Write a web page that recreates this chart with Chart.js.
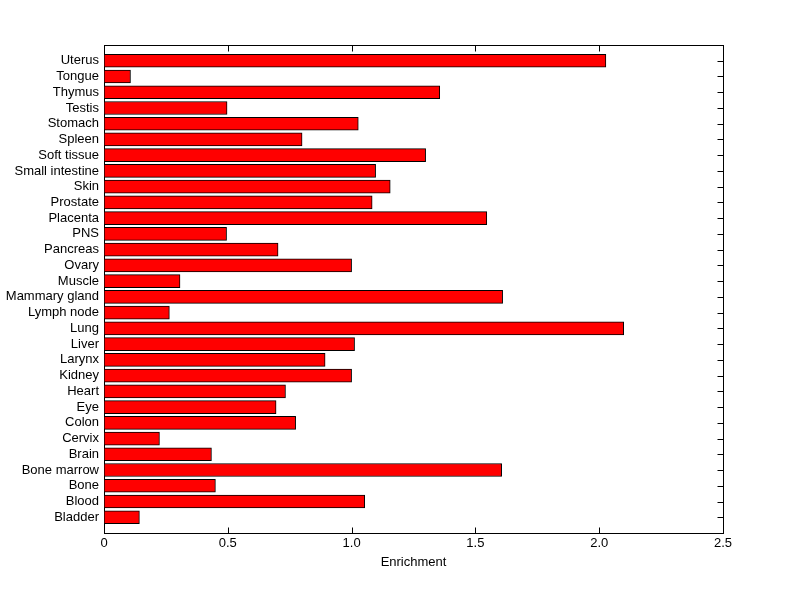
<!DOCTYPE html>
<html>
<head>
<meta charset="utf-8">
<script src="https://cdn.jsdelivr.net/npm/chart.js@4/dist/chart.umd.min.js"></script>
<style>
    html, body { margin: 0; padding: 0; background: #fff; }
    #wrap { width: 800px; height: 599px; }
</style>
</head>
<body>
<div id="wrap"><canvas id="enrichChart"></canvas></div>
<script>
// Tissues, bottom (1) to top (30)
const tissues = ['Bladder', 'Blood', 'Bone', 'Bone marrow', 'Brain', 'Cervix', 'Colon', 'Eye',
    'Heart', 'Kidney', 'Larynx', 'Liver', 'Lung', 'Lymph node', 'Mammary gland', 'Muscle',
    'Ovary', 'Pancreas', 'PNS', 'Placenta', 'Prostate', 'Skin', 'Small intestine',
    'Soft tissue', 'Spleen', 'Stomach', 'Testis', 'Thymus', 'Tongue', 'Uterus'];

const enrichment = [0.143, 1.053, 0.450, 1.606, 0.434, 0.224, 0.774, 0.695,
    0.733, 1.000, 0.893, 1.012, 2.099, 0.264, 1.610, 0.307,
    1.000, 0.703, 0.495, 1.546, 1.083, 1.156, 1.097,
    1.299, 0.800, 1.027, 0.497, 1.356, 0.107, 2.027];

const xTicks = [0, 0.5, 1, 1.5, 2, 2.5];

const FONT = { family: '"Liberation Sans", Arial, sans-serif', size: 13 };

// frame + inward tick marks, drawn under the bars like matlab does
const axesFrame = {
    id: 'axesFrame',
    beforeDatasetsDraw(chart) {
        const { ctx, chartArea: a, scales } = chart;
        const len = 6;
        const L = Math.round(a.left) + 0.5, R = Math.round(a.right) + 0.5;
        const T = Math.round(a.top) + 0.5, B = Math.round(a.bottom) + 0.5;
        ctx.save();
        ctx.strokeStyle = '#000';
        ctx.lineWidth = 1;
        ctx.beginPath();
        xTicks.forEach(t => {
            const px = Math.round(scales.x.getPixelForValue(t)) + 0.5;
            ctx.moveTo(px, T);
            ctx.lineTo(px, T + len);
            ctx.moveTo(px, B);
            ctx.lineTo(px, B - len);
        });
        tissues.forEach((t, i) => {
            const py = Math.round(scales.y.getPixelForValue(i + 1)) + 0.5;
            ctx.moveTo(L, py);
            ctx.lineTo(L + len, py);
            ctx.moveTo(R, py);
            ctx.lineTo(R - len, py);
        });
        ctx.stroke();
        ctx.strokeRect(L, T, R - L, B - T);
        ctx.restore();
    }
};

const ctx = document.getElementById('enrichChart').getContext('2d');
new Chart(ctx, {
    type: 'bar',
    data: {
        datasets: [{
            data: enrichment.map((v, i) => ({ x: v, y: i + 1 })),
            backgroundColor: '#FF0000',
            borderColor: '#000000',
            borderWidth: 1,
            borderSkipped: false,
            barThickness: 13
        }]
    },
    options: {
        indexAxis: 'y',
        responsive: true,
        maintainAspectRatio: false,
        animation: false,
        layout: { padding: { top: 45, right: 77, bottom: 0, left: 0 } },
        plugins: {
            legend: { display: false },
            tooltip: { enabled: false }
        },
        scales: {
            x: {
                type: 'linear',
                min: 0,
                max: 2.5,
                grid: { display: false, drawTicks: false },
                border: { display: false },
                ticks: {
                    stepSize: 0.5,
                    color: '#000',
                    font: FONT,
                    padding: 3,
                    maxRotation: 0
                },
                title: {
                    display: true,
                    text: 'Enrichment',
                    color: '#000',
                    font: FONT,
                    padding: { top: 0, bottom: 29 }
                },
                afterFit(scale) { scale.height = 66; }
            },
            y: {
                type: 'linear',
                min: 0,
                max: 31,
                offset: false,
                grid: { display: false, drawTicks: false, offset: false },
                border: { display: false },
                afterBuildTicks(scale) {
                    scale.ticks = tissues.map((t, i) => ({ value: i + 1 }));
                },
                ticks: {
                    autoSkip: false,
                    color: '#000',
                    font: FONT,
                    padding: 5,
                    callback: (v) => tissues[v - 1] || ''
                },
                afterFit(scale) { scale.width = 104; }
            }
        }
    },
    plugins: [axesFrame]
});
</script>
</body>
</html>
